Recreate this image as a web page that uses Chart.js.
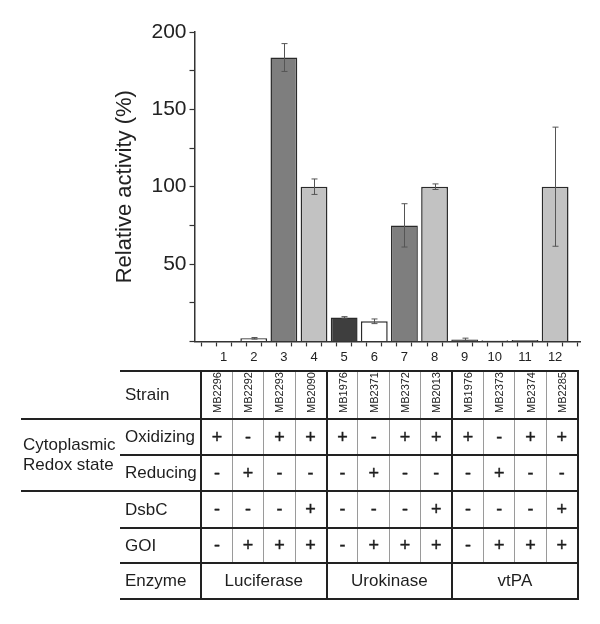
<!DOCTYPE html>
<html>
<head>
<meta charset="utf-8">
<script src="https://cdn.jsdelivr.net/npm/chart.js@4/dist/chart.umd.min.js"></script>
<style>
  body { margin: 0; background: #fff; }
  #contenedor { position: relative; width: 600px; height: 624px; }
  #grafico { position: absolute; left: 0; top: 0; }
  #tabla {
    position: absolute; left: 21px; top: 370px;
    border-collapse: collapse; table-layout: fixed; width: 556.8px;
    font-family: "Liberation Sans", Arial, sans-serif; font-size: 17px; color: #1e1e1e;
  }
  #tabla td { padding: 0; overflow: visible; white-space: nowrap; }
  #tabla td.b { padding-left: 5px; border-top: 2px solid #222; border-right: 2px solid #222; }
  #tabla td.red { border-top: 2px solid #222; border-bottom: 2px solid #222; padding-left: 2px; line-height: 20px; vertical-align: middle; }
  #tabla td.d { text-align: center; border-top: 2px solid #222; border-left: 1px solid #9a9a9a; }
  #tabla td.d.g0 { border-left: 2px solid #222; }
  #tabla td.d.fin { border-right: 2px solid #222; }
  #tabla td.signo { font-size: 18px; -webkit-text-stroke: 0.4px #1e1e1e; }
  #tabla tr.ultima td.b, #tabla tr.ultima td.d { border-bottom: 2px solid #222; }
  #tabla .rot { display: inline-block; writing-mode: vertical-rl; transform: rotate(180deg); font-size: 11px; }
</style>
</head>
<body>
<div id="contenedor">
  <canvas id="grafico" width="600" height="624"></canvas>
  <table id="tabla"></table>
</div>
<script>
/**
 * Datos
 */
const carriles = [1, 2, 3, 4, 5, 6, 7, 8, 9, 10, 11, 12];
const actividad = [0, 2, 183.5, 100, 15.5, 13, 75, 100, 1.3, 0.7, 0.9, 100];
const errorActividad = [0, 0.5, 9, 5, 0.5, 1.5, 14, 1.8, 0.8, 0, 0, 38.5];
const cepas = ["MB2296", "MB2292", "MB2293", "MB2090", "MB1976", "MB2371",
  "MB2372", "MB2013", "MB1976", "MB2373", "MB2374", "MB2285"];
const oxidante = ["+", "-", "+", "+", "+", "-", "+", "+", "+", "-", "+", "+"];
const reductor = ["-", "+", "-", "-", "-", "+", "-", "-", "-", "+", "-", "-"];
const dsbc = ["-", "-", "-", "+", "-", "-", "-", "+", "-", "-", "-", "+"];
const goi = ["-", "+", "+", "+", "-", "+", "+", "+", "-", "+", "+", "+"];
const enzimas = ["Luciferase", "Urokinase", "vtPA"];

// colores de cada barra (estilo, no datos)
const colorBarras = ["#3e3e3e", "#ffffff", "#7e7e7e", "#c2c2c2", "#3e3e3e", "#ffffff",
  "#7e7e7e", "#c2c2c2", "#3e3e3e", "#ffffff", "#7e7e7e", "#c2c2c2"];

const fuente = "'Liberation Sans', Arial, sans-serif";

// marcas del eje x: centro de cada carril y bordes entre carriles
const marcasX = [];
for (const c of carriles) {
  marcasX.push(c - 0.5, c);
}
marcasX.push(carriles[carriles.length - 1] + 0.5);

/*BARRAS DE ERROR*/
const pluginBarrasError = {
  id: "barrasError",
  afterDatasetsDraw(chart) {
    const ctx = chart.ctx;
    const ejeX = chart.scales.x;
    const ejeY = chart.scales.y;
    ctx.save();
    ctx.strokeStyle = "#555";
    ctx.lineWidth = 1;
    actividad.forEach((valor, i) => {
      const e = errorActividad[i];
      if (!e) return;
      const px = Math.round(ejeX.getPixelForValue(carriles[i])) + 0.5;
      const arriba = ejeY.getPixelForValue(valor + e);
      const abajo = ejeY.getPixelForValue(valor - e);
      ctx.beginPath();
      ctx.moveTo(px, arriba);
      ctx.lineTo(px, abajo);
      ctx.moveTo(px - 3, arriba);
      ctx.lineTo(px + 3, arriba);
      ctx.moveTo(px - 3, abajo);
      ctx.lineTo(px + 3, abajo);
      ctx.stroke();
    });
    ctx.restore();
  },
};

const ctx = document.getElementById("grafico");
new Chart(ctx, {
  type: "bar",
  data: {
    datasets: [
      {
        data: carriles.map((c, i) => ({ x: c, y: actividad[i] })),
        backgroundColor: colorBarras,
        borderColor: "#2a2a2a",
        borderWidth: 1.5,
        borderSkipped: "start",
        categoryPercentage: 1,
        // el intervalo minimo lo dan las marcas de medio carril, por eso > 1
        barPercentage: 1.78,
      },
    ],
  },
  options: {
    responsive: false,
    animation: false,
    layout: { padding: { left: 100, right: 20, top: 32, bottom: 256 } },
    plugins: { legend: { display: false }, tooltip: { enabled: false } },
    scales: {
      x: {
        type: "linear",
        min: 0.29,
        max: 12.57,
        afterBuildTicks(scale) {
          scale.ticks = marcasX.map((v) => ({ value: v }));
        },
        ticks: {
          autoSkip: false,
          maxRotation: 0,
          padding: 3,
          color: "#222",
          font: { family: fuente, size: 13 },
          callback: (v) => (Number.isInteger(v) ? String(carriles[v - 1]) : ""),
        },
        grid: { drawOnChartArea: false, tickLength: 5, color: "#333", tickWidth: 1.2 },
        border: { color: "#333", width: 1.5 },
      },
      y: {
        min: 0,
        max: 200,
        afterFit(scale) {
          scale.width = 94.5;
        },
        ticks: {
          stepSize: 25,
          padding: 3,
          color: "#222",
          font: { family: fuente, size: 21 },
          callback: (v) => (v > 0 && v % 50 === 0 ? v : ""),
        },
        grid: { drawOnChartArea: false, tickLength: 5, color: "#333", tickWidth: 1.2 },
        border: { color: "#333", width: 1.5 },
        title: {
          display: true,
          text: "Relative activity (%)",
          color: "#222",
          font: { family: fuente, size: 22 },
          padding: { top: 12, bottom: 0 },
        },
      },
    },
  },
  plugins: [pluginBarrasError],
});

/**
 * Tabla de condiciones debajo del grafico
 */
function celdas(lista, fn, extra) {
  return lista
    .map((v, i) => {
      let cls = "d";
      if (extra) cls += " " + extra;
      if (i % 4 === 0) cls += " g0";
      if (i === lista.length - 1) cls += " fin";
      return `<td class="${cls}">${fn ? fn(v) : v}</td>`;
    })
    .join("");
}

function construirTabla() {
  let html = "<colgroup><col style='width:99px'><col style='width:81px'>";
  for (let i = 0; i < carriles.length; i++) html += "<col style='width:31.4px'>";
  html += "</colgroup>";

  html += `<tr style="height:48px"><td></td><td class="b">Strain</td>${celdas(cepas, (v) => `<span class="rot">${v}</span>`)}</tr>`;
  html += `<tr style="height:36px"><td class="red" rowspan="2">Cytoplasmic<br>Redox state</td><td class="b">Oxidizing</td>${celdas(oxidante, null, "signo")}</tr>`;
  html += `<tr style="height:36px"><td class="b">Reducing</td>${celdas(reductor, null, "signo")}</tr>`;
  html += `<tr style="height:37px"><td></td><td class="b">DsbC</td>${celdas(dsbc, null, "signo")}</tr>`;
  html += `<tr style="height:35px"><td></td><td class="b">GOI</td>${celdas(goi, null, "signo")}</tr>`;

  let filaEnzima = "";
  enzimas.forEach((e, i) => {
    let cls = "d g0";
    if (i === enzimas.length - 1) cls += " fin";
    filaEnzima += `<td class="${cls}" colspan="4">${e}</td>`;
  });
  html += `<tr class="ultima" style="height:36px"><td></td><td class="b">Enzyme</td>${filaEnzima}</tr>`;

  document.getElementById("tabla").innerHTML = html;
}

construirTabla();
</script>
</body>
</html>
